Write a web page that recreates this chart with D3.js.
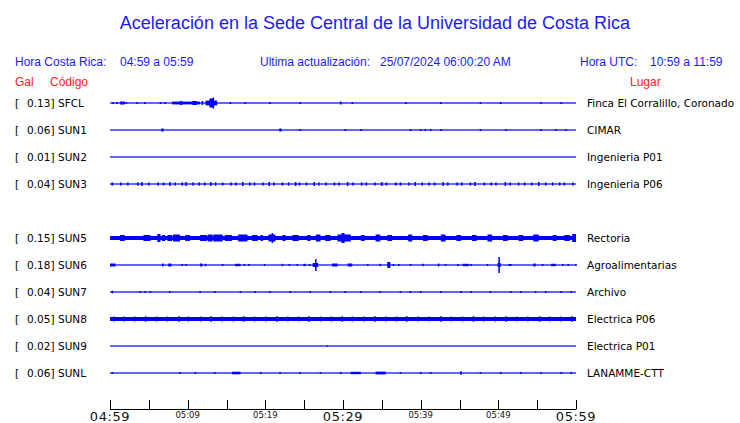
<!DOCTYPE html>
<html><head><meta charset="utf-8">
<script src="https://cdn.jsdelivr.net/npm/d3@7"></script>
<style>body{margin:0;background:#fff}svg{display:block}</style>
</head><body>
<script>
// ---- data ----
const codes = ["SFCL","SUN1","SUN2","SUN3",null,"SUN5","SUN6","SUN7","SUN8","SUN9","SUNL"];
const gal   = [0.13,0.06,0.01,0.04,null,0.15,0.18,0.04,0.05,0.02,0.06];
const places= ["Finca El Corralillo, Coronado","CIMAR","Ingenieria P01","Ingenieria P06",null,"Rectoria","Agroalimentarias","Archivo","Electrica P06","Electrica P01","LANAMME-CTT"];
const baseAmp = [0.5,0.5,0.5,0.5,null,2,0.5,0.5,2,0.5,0.5];
const tickLabels = ["04:59","05:09","05:19","05:29","05:39","05:49","05:59"];
// events: [minute, amp] spike or [start, end, amp] burst (minutes after 04:59)
const evSFCL = [[0.4,1],[0.9,1],[1.3,1.9,1.5],[2.1,1],[3.5,1],[4.5,1],[6.5,1],[7.1,1],[8.0,11.6,1.4],[9.0,9.3,2],[10.6,11.2,2],[11.9,2],[12.3,13.8,2.4],[12.8,13.4,4.5],[13.3,5.5],[15.5,1],[17.4,1],[20.6,1],[24.5,1],[29.7,1.5],[31.2,1],[38.1,1],[42.6,1],[47.7,1],[50.3,1],[55.5,1],[58.1,1]];
const evSUN1 = [[6.6,6.9,1.5],[21.8,22.1,1.5],[24.5,1],[30.3,1],[32.3,1],[38.7,1],[40.0,1],[40.6,1],[41.3,1],[42.6,1],[47.7,1],[51.0,1],[55.5,1],[57.4,1],[58.7,1]];
const evSUN2 = [];
const evSUN3 = [[0.3,1.6],[1.4,1.6],[2.3,1.6],[3.6,1.6],[4.1,2],[5.0,1.6],[6.2,1.6],[6.9,1.6],[7.7,2],[8.4,1.6],[9.3,1.6],[9.8,2],[10.7,1.6],[11.5,1.6],[12.2,1.6],[13.0,2],[13.6,1.6],[14.5,1.6],[15.6,1.6],[16.2,1.6],[17.1,2],[18.0,1.6],[18.6,1.6],[19.7,1.6],[20.5,2],[21.1,1.6],[22.2,1.6],[23.0,1.6],[23.9,2],[24.4,1.6],[25.3,1.6],[26.3,2],[26.9,1.6],[27.8,1.6],[28.9,1.6],[29.5,1.6],[30.6,2],[31.3,1.6],[32.4,1.6],[33.0,1.6],[34.1,1.6],[35.0,2],[35.6,1.6],[36.8,1.6],[37.4,1.6],[38.5,1.6],[39.3,2],[40.2,1.6],[41.1,1.6],[41.8,1.6],[42.9,2],[43.5,1.6],[44.7,1.6],[45.3,1.6],[46.4,1.6],[47.0,2],[48.2,1.6],[49.1,1.6],[49.7,1.6],[50.9,2],[51.5,1.6],[52.6,1.6],[53.4,1.6],[54.3,1.6],[55.2,2],[56.1,1.6],[57.0,1.6],[57.9,1.6],[58.5,1.6],[59.6,1.6]];
const evSUN5 = [[1.3,1.9,3],[4.3,5.2,3],[6.1,6.5,4],[6.7,7.1,3],[7.4,8.0,3],[8.1,9.0,3.5],[9.7,10.3,3],[11.6,12.5,3],[12.6,13.2,3.5],[13.3,14.5,3.5],[14.8,15.7,3],[16.5,17.7,3.5],[18.3,19.0,3],[19.4,19.7,3],[20.4,21.3,3.5],[20.8,21.0,5],[22.2,22.6,3],[23.5,24.3,3],[25.4,25.8,3],[26.5,27.1,3.5],[27.7,28.4,3],[29.3,31.0,3.5],[29.8,30.2,5],[32.3,32.8,3],[34.2,34.8,3.5],[35.7,36.3,3],[38.4,38.9,3.5],[40.3,40.9,3],[42.6,43.2,3.5],[44.6,45.2,3],[46.6,47.2,3],[48.6,49.2,3.5],[50.6,51.2,3],[52.6,53.2,3],[54.5,55.2,3.5],[57.0,57.5,3],[58.5,59.2,3],[59.5,60.0,4]];
const evSUN6 = [[0,0.7,1.5],[6.8,1.5],[7.5,7.9,1.5],[9.3,1],[9.8,1],[11.6,11.9,1.5],[12.3,1.2],[14.5,1],[16.1,16.8,1.2],[17.3,1],[17.9,1],[19.9,1],[22.2,1.2],[23.1,1],[24.1,1],[24.9,25.2,1.2],[25.7,1],[26.1,26.8,2],[26.5,6],[28.6,29.3,1.5],[30.6,31.2,1.5],[33.2,1],[34.8,1.2],[35.7,36.1,3],[36.5,1],[37.2,1],[38.7,1],[40.3,1.2],[42.3,1.5],[43.2,1],[44.8,1],[45.4,46.2,1.2],[46.5,1],[48.6,1],[49.9,50.3,2],[50.1,8],[51.4,1],[51.6,1],[54.5,54.8,1.5],[55.7,1],[56.8,57.4,1.2],[58.3,1],[59.0,1],[60.0,1]];
const evSUN7 = [[0.3,1.3],[3.9,1],[4.5,1],[5.2,1],[7.7,1],[11.6,1],[13.5,1],[16.8,1],[18.7,1],[20.6,1],[23.2,1],[25.8,1],[28.4,1],[30.3,1],[32.3,1],[34.8,1],[37.4,1],[38.7,1],[40.0,1],[42.6,1],[45.2,1],[46.5,1],[49.0,1],[51.6,1],[52.9,1],[54.8,1],[56.1,1],[58.1,1],[59.4,1]];
const evSUN8 = [[0.5,2.5],[1.8,2.5],[3.2,2.5],[4.6,2.8],[6.0,2.5],[7.4,2.5],[8.9,2.8],[10.1,2.5],[11.7,2.5],[13.0,2.8],[14.4,2.5],[15.9,2.5],[17.2,2.8],[18.6,2.5],[20.1,2.5],[21.5,2.8],[22.9,2.5],[24.3,2.5],[25.6,2.8],[27.1,2.5],[28.5,2.5],[29.9,2.8],[31.2,2.5],[32.7,2.5],[34.1,2.8],[35.5,2.5],[36.9,2.5],[38.2,2.8],[39.7,2.5],[41.1,2.5],[42.6,2.8],[43.9,2.5],[45.4,2.5],[46.8,2.8],[48.1,2.5],[49.6,2.5],[51.0,2.8],[52.4,2.5],[53.8,2.5],[55.3,2.8],[56.6,2.5],[58.0,2.5],[59.5,2.8]];
const evSUN9 = [[28.0,0.8]];
const evSUNL = [[0.3,1],[9.0,1],[11.0,1],[13.5,1],[15.7,16.8,1.3],[19.4,1],[21.9,1],[24.5,1],[27.1,1],[29.7,1],[31.0,32.3,1.2],[34.2,35.5,1.4],[37.4,1],[40.0,1],[41.3,1],[45.2,1.8],[47.7,1],[50.3,1],[52.9,1],[55.5,1],[58.1,1],[59.4,1]];
const events = [evSFCL,evSUN1,evSUN2,evSUN3,null,evSUN5,evSUN6,evSUN7,evSUN8,evSUN9,evSUNL];

// ---- drawing ----
const W=740,H=423;
const svg=d3.select("body").append("svg").attr("width",W).attr("height",H);
const blue="#1a1aff", red="#ff2020", trace="#0000ff";
const x=d3.scaleLinear().domain([0,60]).range([110,576]);
const y=d3.scaleBand().domain(d3.range(codes.length)).range([89.5,386.5]);
const amp=d3.scaleLinear().domain([0,10]).range([0,10]);

svg.append("text").attr("x",375).attr("y",29).attr("text-anchor","middle")
  .attr("font-family","Liberation Sans, Arial, sans-serif").attr("font-size",18).attr("fill",blue)
  .text("Aceleración en la Sede Central de la Universidad de Costa Rica");

const hdr=[["Hora Costa Rica:",15],["04:59 a 05:59",120],["Ultima actualización:",260],["25/07/2024 06:00:20 AM",380],["Hora UTC:",580],["10:59 a 11:59",650]];
svg.selectAll("text.hdr").data(hdr).join("text").attr("class","hdr")
  .attr("x",d=>d[1]).attr("y",65.5).attr("font-family","Liberation Sans, Arial, sans-serif")
  .attr("font-size",12).attr("fill",blue).text(d=>d[0]);
const hdr2=[["Gal",15],["Código",50],["Lugar",630]];
svg.selectAll("text.hdr2").data(hdr2).join("text").attr("class","hdr2")
  .attr("x",d=>d[1]).attr("y",85.5).attr("font-family","Liberation Sans, Arial, sans-serif")
  .attr("font-size",12).attr("fill",red).text(d=>d[0]);

const rows=d3.range(codes.length).filter(i=>codes[i]);
const g=svg.selectAll("g.row").data(rows).join("g").attr("class","row")
  .attr("transform",i=>`translate(0,${y(i)+y.bandwidth()/2})`);
const lf="DejaVu Sans, sans-serif";
const fs=10.5;
g.append("text").attr("x",15).attr("y",4).attr("font-family",lf).attr("font-size",fs).text("[");
g.append("text").attr("x",27).attr("y",4).attr("font-family",lf).attr("font-size",fs).text(i=>gal[i].toFixed(2)+"]");
g.append("text").attr("x",58).attr("y",4).attr("font-family",lf).attr("font-size",fs).text(i=>codes[i]);
g.append("text").attr("x",587).attr("y",4).attr("font-family",lf).attr("font-size",fs).text(i=>places[i]);
g.append("rect").attr("x",x(0)).attr("width",x(60)-x(0))
  .attr("y",i=>-Math.max(amp(baseAmp[i]),0.6)).attr("height",i=>2*Math.max(amp(baseAmp[i]),0.6)).attr("fill",trace);
g.each(function(i){
  d3.select(this).selectAll("rect.ev").data(events[i]).join("rect").attr("class","ev")
    .attr("x",d=>d.length===2?x(d[0])-0.75:x(d[0]))
    .attr("width",d=>d.length===2?1.5:Math.max(1.5,x(d[1])-x(d[0])))
    .attr("y",d=>-amp(d[d.length-1])).attr("height",d=>2*amp(d[d.length-1])).attr("fill",trace);
});

// axis
const tickVals=d3.range(0,61,5);
const ax=svg.append("g");
ax.append("line").attr("x1",x(0)).attr("x2",x(60)).attr("y1",409.5).attr("y2",409.5).attr("stroke","#000");
ax.selectAll("line.t").data(tickVals).join("line").attr("class","t")
  .attr("x1",d=>Math.round(x(d))+0.5).attr("x2",d=>Math.round(x(d))+0.5).attr("y1",400).attr("y2",409.5).attr("stroke","#000");
ax.selectAll("text").data(tickLabels).join("text")
  .attr("x",(d,i)=>x(i*10)).attr("text-anchor","middle").attr("font-family",lf).attr("fill","#111")
  .attr("letter-spacing",(d,i)=>i%3===0?0.6:0)
  .attr("y",(d,i)=>i%3===0?421:417.5).attr("font-size",(d,i)=>i%3===0?13:8.5).text(d=>d);
</script>
</body></html>
